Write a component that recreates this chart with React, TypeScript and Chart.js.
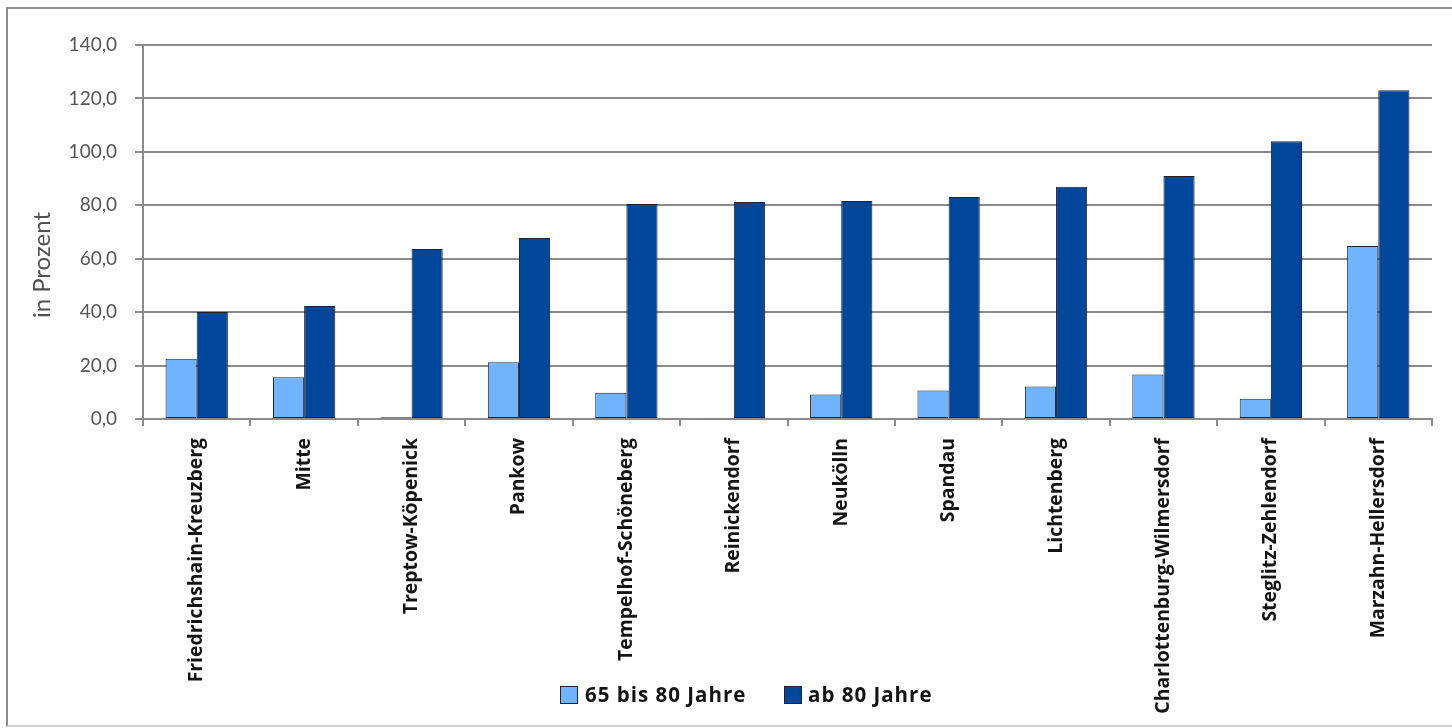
import React, { useEffect, useRef } from "react";
import { Chart, registerables } from "chart.js";

Chart.register(...registerables);

const categories = [
  "Friedrichshain-Kreuzberg",
  "Mitte",
  "Treptow-Köpenick",
  "Pankow",
  "Tempelhof-Schöneberg",
  "Reinickendorf",
  "Neukölln",
  "Spandau",
  "Lichtenberg",
  "Charlottenburg-Wilmersdorf",
  "Steglitz-Zehlendorf",
  "Marzahn-Hellersdorf",
];

const series65to80 = [22.6, 15.6, 0.7, 21.2, 9.8, 0.3, 9.2, 10.7, 12.2, 16.7, 7.6, 64.8];
const seriesAb80 = [40.1, 42.3, 63.6, 67.8, 80.5, 81.2, 81.6, 83.1, 86.9, 91.0, 104.0, 123.1];

const seriesLabels = ["65 bis 80 Jahre", "ab 80 Jahre"];
const yTicks = [0, 20, 40, 60, 80, 100, 120, 140];
const yTitle = "in Prozent";

const LIGHT = "#70B3FF";
const DARK = "#00479C";
const BORDER = "#1c2233";
const GRID = "#8a8a8a";

const yTitlePlugin = {
  id: "yTitlePlugin",
  afterDraw(chart: any) {
    const { ctx, chartArea } = chart;
    ctx.save();
    ctx.translate(42, (chartArea.top + chartArea.bottom) / 2 + 33);
    ctx.rotate(-Math.PI / 2);
    ctx.font = "24px Lato";
    ctx.fillStyle = "#505050";
    ctx.textAlign = "center";
    ctx.textBaseline = "middle";
    ctx.fillText(yTitle, 0, 0);
    ctx.restore();
  },
};

export default function App() {
  const ref = useRef<HTMLCanvasElement | null>(null);

  useEffect(() => {
    if (!ref.current) return;
    const chart = new Chart(ref.current, {
      type: "bar",
      data: {
        labels: categories,
        datasets: [
          {
            label: seriesLabels[0],
            data: series65to80,
            backgroundColor: LIGHT,
            borderColor: BORDER,
            borderWidth: 1,
            borderSkipped: false,
            categoryPercentage: 0.58,
            barPercentage: 1,
          },
          {
            label: seriesLabels[1],
            data: seriesAb80,
            backgroundColor: DARK,
            borderColor: BORDER,
            borderWidth: 1,
            borderSkipped: false,
            categoryPercentage: 0.58,
            barPercentage: 1,
          },
        ],
      },
      options: {
        animation: false,
        responsive: false,
        devicePixelRatio: 1,
        layout: { padding: { top: 45, right: 20, left: 0, bottom: 0 } },
        plugins: {
          legend: { display: false },
          tooltip: { enabled: false },
        },
        scales: {
          x: {
            offset: true,
            grid: {
              display: true,
              drawOnChartArea: false,
              drawTicks: true,
              tickLength: 7,
              color: GRID,
              lineWidth: 2,
              offset: true,
            },
            border: { display: true, color: GRID, width: 2 },
            ticks: {
              autoSkip: false,
              minRotation: 90,
              maxRotation: 90,
              padding: 12,
              color: "#141414",
              font: { family: "Open Sans", size: 19.4, weight: "bold" },
            },
            afterFit: (s: any) => {
              s.height = 309;
            },
          },
          y: {
            min: 0,
            max: 140,
            afterBuildTicks: (s: any) => {
              s.ticks = yTicks.map((v) => ({ value: v }));
            },
            grid: {
              color: GRID,
              lineWidth: 2,
              drawTicks: true,
              tickLength: 8,
            },
            border: { display: true, color: GRID, width: 2 },
            ticks: {
              padding: 18,
              color: "#555555",
              font: { family: "Lato", size: 19 },
              callback: (v: any) => Number(v).toFixed(1).replace(".", ","),
            },
            afterFit: (s: any) => {
              s.width = 143;
            },
          },
        },
      },
      plugins: [yTitlePlugin],
    });
    return () => chart.destroy();
  }, []);

  const legendText: React.CSSProperties = {
    position: "absolute",
    top: 680,
    height: 28,
    lineHeight: "28px",
    font: "bold 20.5px 'Open Sans'",
    letterSpacing: "1px",
    color: "#141414",
    whiteSpace: "nowrap",
  };
  const box = (color: string, left: number): React.CSSProperties => ({
    position: "absolute",
    left,
    top: 686,
    width: 16,
    height: 16,
    background: color,
    border: `1px solid ${BORDER}`,
  });

  return (
    <div
      style={{
        position: "fixed",
        left: 0,
        top: 0,
        width: 1452,
        height: 728,
        background: "#ffffff",
        overflow: "hidden",
      }}
    >
      <div
        style={{
          position: "absolute",
          left: 6,
          top: 7,
          width: 1460,
          height: 716,
          borderLeft: "2px solid #8c8c8c",
          borderTop: "2px solid #8c8c8c",
          borderBottom: "2px solid #d0d0d0",
        }}
      />
      <canvas ref={ref} width={1452} height={728} style={{ position: "absolute", left: 0, top: 0 }} />
      <div style={box(LIGHT, 560)} />
      <div style={{ ...legendText, left: 585 }}>{seriesLabels[0]}</div>
      <div style={box(DARK, 784)} />
      <div style={{ ...legendText, left: 808 }}>{seriesLabels[1]}</div>
    </div>
  );
}
